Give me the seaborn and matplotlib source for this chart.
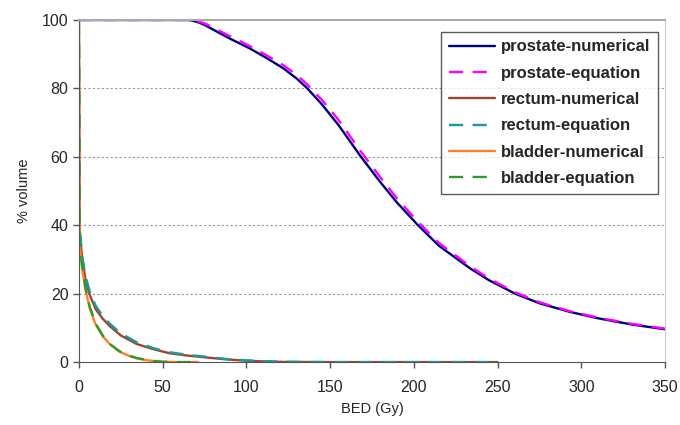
import numpy as np
import pandas as pd
import matplotlib
matplotlib.use("Agg")
import matplotlib.pyplot as plt
import seaborn as sns

# prostate DVH (BED in Gy, % volume)
prostate_bed = [0, 60, 65, 68, 72, 76, 82, 90, 102, 112, 122, 130, 136, 145, 155, 168, 180, 190,
                202.5, 215, 233.6, 245, 260.5, 275, 293, 310, 330, 350]
prostate_num = [100, 100, 100, 99.8, 99.2, 98.3, 96.7, 94.6, 91.7, 88.9, 85.9, 82.9, 80.2, 75.4, 69.3,
                60.3, 52.6, 46.6, 40, 34, 27.4, 23.9, 20, 17.2, 14.7, 12.8, 11.0, 9.6]
prostate_eq = [100, 100, 100, 99.9, 99.5, 98.8, 97.3, 95.3, 92.4, 89.7, 86.8, 84.0, 81.3, 76.7, 70.8,
               61.8, 54, 47.8, 41, 34.8, 28, 24.4, 20.4, 17.5, 14.9, 13.0, 11.2, 9.8]

# rectum DVH
rectum_bed = [0, 0.5, 2, 4, 6.6, 10, 14, 18.5, 25, 34.5, 45, 54, 65, 75, 88, 100, 110, 122, 150, 200, 250]
rectum_num = [100, 38, 30, 24, 19.5, 15.5, 12.8, 10.5, 7.8, 5.3, 3.7, 2.6, 1.9, 1.4, 0.8, 0.4, 0.2, 0.05, 0, 0, 0]
rectum_eq = [100, 39, 31, 25, 20.5, 16.5, 13.6, 11.2, 8.4, 5.8, 4.0, 2.9, 2.1, 1.6, 0.9, 0.5, 0.3, 0.1, 0, 0, 0]

# bladder DVH
bladder_bed = [0, 0.5, 2, 4, 6.6, 10, 14.5, 19, 24.5, 30, 34.5, 40, 44.5, 50, 60, 71]
bladder_num = [100, 34, 27, 21, 15.5, 11, 7.4, 5, 3, 1.8, 1.1, 0.6, 0.3, 0.1, 0, 0]
bladder_eq = [100, 35, 28, 21.5, 16, 11.3, 7.6, 5.1, 3.1, 1.9, 1.2, 0.7, 0.35, 0.1, 0, 0]

series = [
    ("prostate-numerical", prostate_bed, prostate_num, "#000080", "-"),
    ("prostate-equation", prostate_bed, prostate_eq, "#FF00FF", "--"),
    ("rectum-numerical", rectum_bed, rectum_num, "#A0452D", "-"),
    ("rectum-equation", rectum_bed, rectum_eq, "#1A9A9A", "--"),
    ("bladder-numerical", bladder_bed, bladder_num, "#FF7F27", "-"),
    ("bladder-equation", bladder_bed, bladder_eq, "#2E9A2E", "--"),
]

sns.set_style("white")
plt.rcParams['font.family'] = ['Liberation Sans', 'DejaVu Sans']

fig = plt.figure(figsize=(6.8, 4.25), dpi=100)
ax = fig.add_axes([0.116, 0.148, 0.862, 0.805])

for name, x, y, color, ls in series:
    df = pd.DataFrame({"bed": x, "vol": y})
    sns.lineplot(data=df, x="bed", y="vol", ax=ax, color=color, linestyle=ls,
                 linewidth=1.7, label=name)
    if ls == "--":
        ax.lines[-1].set_dashes([6, 4])

ax.set_xlim(0, 350)
ax.set_ylim(0, 100)
ax.set_xticks([0, 50, 100, 150, 200, 250, 300, 350])
ax.set_yticks([0, 20, 40, 60, 80, 100])
ax.tick_params(axis="both", labelsize=11.5, length=4, width=1, color="#555555",
               direction="out", left=True, bottom=True)
ax.tick_params(axis="x", pad=9)
ax.set_xlabel("BED (Gy)", fontsize=10.5, labelpad=5)
ax.set_ylabel("% volume", fontsize=10.5, labelpad=8)

for v in [20, 40, 60, 80]:
    ax.axhline(v, color="#999999", linestyle=(0, (2, 2)), linewidth=0.8, zorder=0)

ax.spines["left"].set_color("#555555")
ax.spines["bottom"].set_color("#555555")
ax.spines["top"].set_color("#AAAAAA")
ax.spines["top"].set_linewidth(1.5)
ax.spines["right"].set_color("#CCCCCC")
ax.spines["right"].set_linewidth(0.8)

leg = ax.legend(loc="upper right", bbox_to_anchor=(0.988, 0.965), fontsize=12,
                frameon=True, fancybox=False, edgecolor="#333333", handlelength=2.8,
                labelspacing=0.68, borderpad=0.45, handletextpad=0.35, borderaxespad=0)
leg.get_frame().set_linewidth(1.0)
for t in leg.get_texts():
    t.set_fontweight("bold")

fig.savefig("out.png", dpi=100)
